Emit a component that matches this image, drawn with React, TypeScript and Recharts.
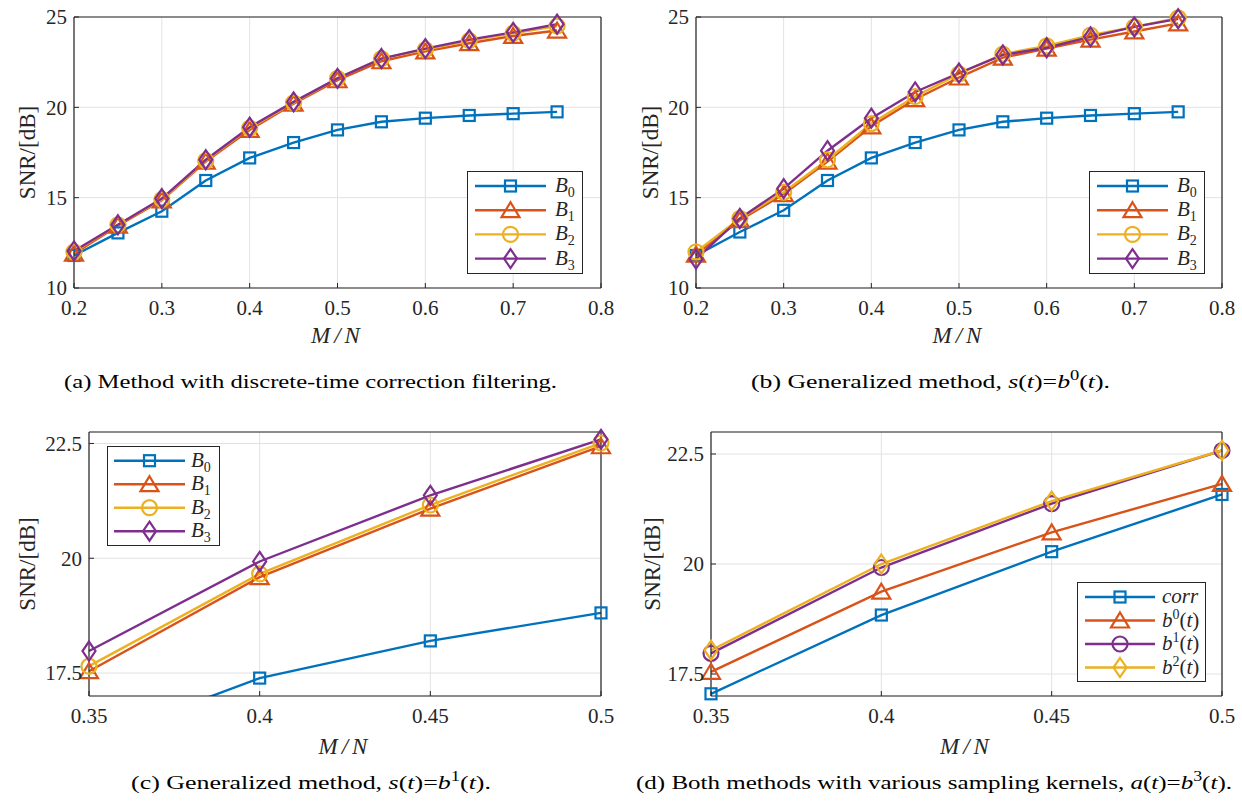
import React from "react";
import { LineChart, Line, XAxis, YAxis, CartesianGrid, Legend } from "recharts";

const BLUE = "#0072BD";
const ORANGE = "#D95319";
const YELLOW = "#EDB120";
const PURPLE = "#7E2F8E";
const INK = "#262626";
const GRID = "#e2e2e2";
const SERIF = "Liberation Serif";

// M/N values
const mnWide = [0.2, 0.25, 0.3, 0.35, 0.4, 0.45, 0.5, 0.55, 0.6, 0.65, 0.7, 0.75];
const mnZoom = [0.35, 0.4, 0.45, 0.5];

// ticks
const xTicksWide = [0.2, 0.3, 0.4, 0.5, 0.6, 0.7, 0.8];
const xTicksZoom = [0.35, 0.4, 0.45, 0.5];
const yTicksWide = [10, 15, 20, 25];
const yTicksZoom = [17.5, 20, 22.5];

// (a) discrete-time correction filtering
const snrA0 = [11.8, 13.05, 14.25, 15.95, 17.2, 18.05, 18.75, 19.2, 19.4, 19.55, 19.65, 19.75];
const snrA1 = [11.9, 13.45, 14.85, 17.0, 18.75, 20.2, 21.5, 22.55, 23.1, 23.55, 23.95, 24.25];
const snrA2 = [12.0, 13.5, 14.9, 17.05, 18.85, 20.25, 21.6, 22.7, 23.2, 23.7, 24.1, 24.5];
const snrA3 = [12.05, 13.5, 14.95, 17.1, 18.9, 20.3, 21.6, 22.7, 23.25, 23.75, 24.15, 24.6];

// (b) generalized, s(t)=b0(t)
const snrB0 = [11.8, 13.1, 14.3, 15.95, 17.2, 18.05, 18.75, 19.2, 19.4, 19.55, 19.65, 19.75];
const snrB1 = [11.85, 13.75, 15.2, 17.0, 18.95, 20.45, 21.65, 22.75, 23.25, 23.75, 24.2, 24.65];
const snrB2 = [12.0, 13.85, 15.3, 17.1, 19.1, 20.6, 21.85, 22.95, 23.4, 24.0, 24.45, 24.95];
const snrB3 = [11.6, 13.85, 15.5, 17.6, 19.4, 20.85, 21.9, 22.9, 23.3, 23.9, 24.45, 24.9];

// (c) generalized, s(t)=b1(t)
const snrC0 = [16.0, 17.39, 18.2, 18.81];
const snrC1 = [17.54, 19.59, 21.08, 22.44];
const snrC2 = [17.65, 19.66, 21.16, 22.51];
const snrC3 = [17.98, 19.93, 21.37, 22.59];

// (d) sampling kernels, a(t)=b3(t)
const snrDcorr = [17.05, 18.84, 20.28, 21.58];
const snrDb0 = [17.55, 19.37, 20.72, 21.82];
const snrDb1 = [17.97, 19.92, 21.37, 22.58];
const snrDb2 = [18.04, 20.0, 21.43, 22.58];

type Shape = "square" | "triangle" | "circle" | "diamond";

const Marker = ({ cx, cy, shape, color }: { cx?: number | null; cy?: number | null; shape: Shape; color: string }) => {
  if (cx == null || cy == null || Number.isNaN(cy)) return null;
  const common = { fill: "none", stroke: color, strokeWidth: 2.2 };
  if (shape === "square") return <rect x={cx - 5.5} y={cy - 5.5} width={11} height={11} {...common} />;
  if (shape === "triangle")
    return <polygon points={`${cx},${cy - 8} ${cx + 9},${cy + 7} ${cx - 9},${cy + 7}`} {...common} />;
  if (shape === "circle") return <circle cx={cx} cy={cy} r={7.5} {...common} />;
  return <polygon points={`${cx},${cy - 9.5} ${cx + 6.5},${cy} ${cx},${cy + 9.5} ${cx - 6.5},${cy}`} {...common} />;
};

const subLabel = (base: string, sub: string) => (
  <>
    <tspan fontStyle="italic">{base}</tspan>
    <tspan fontSize={14} dy={5}>{sub}</tspan>
  </>
);

const supLabel = (base: string, sup: string) => (
  <>
    <tspan fontStyle="italic">{base}</tspan>
    <tspan fontSize={14} dy={-8}>{sup}</tspan>
    <tspan dy={8}>(</tspan>
    <tspan fontStyle="italic">t</tspan>
    <tspan>)</tspan>
  </>
);

type Series = { key: string; values: number[]; color: string; shape: Shape; label: React.ReactNode };

type LegendCfg = {
  left: number;
  top: number;
  width: number;
  height: number;
  rowTop: number;
  rowGap: number;
  x1: number;
  x2: number;
  textX: number;
};

const LegendBox = ({ cfg, items }: { cfg: LegendCfg; items: Series[] }) => (
  <svg width={cfg.width} height={cfg.height} style={{ display: "block" }}>
    <rect x={0.5} y={0.5} width={cfg.width - 1} height={cfg.height - 1} fill="#fff" stroke={INK} strokeWidth={1} />
    {items.map((s, i) => {
      const y = cfg.rowTop + i * cfg.rowGap;
      return (
        <g key={s.key}>
          <line x1={cfg.x1} x2={cfg.x2} y1={y} y2={y} stroke={s.color} strokeWidth={2.4} />
          <Marker cx={(cfg.x1 + cfg.x2) / 2} cy={y} shape={s.shape} color={s.color} />
          <text x={cfg.textX} y={y + 6} fontFamily={SERIF} fontSize={21} fill={INK}>
            {s.label}
          </text>
        </g>
      );
    })}
  </svg>
);

type PanelProps = {
  left: number;
  top: number;
  width: number;
  height: number;
  margin: { top: number; right: number; bottom: number; left: number };
  yWidth: number;
  xHeight: number;
  mn: number[];
  xTicks: number[];
  yTicks: number[];
  yDomain: [number, number];
  series: Series[];
  clipKey?: string;
  legend: LegendCfg;
  yLabelX: number;
  xLabelOffset: number;
};

const tickStyle = { fill: INK, fontFamily: SERIF, fontSize: 21 };

function Panel(p: PanelProps) {
  const data = p.mn.map((m, i) => {
    const row: Record<string, number | null> = { mn: m };
    p.series.forEach((s) => {
      row[s.key] = s.values[i];
      // markers of a series that runs below the axis are drawn only where they are in range
      if (s.key === p.clipKey) row[s.key + "Marks"] = s.values[i] < p.yDomain[0] ? null : s.values[i];
    });
    return row;
  });
  const xDomain = [p.xTicks[0], p.xTicks[p.xTicks.length - 1]];

  const lines: React.ReactNode[] = [];
  p.series.forEach((s) => {
    const clipped = s.key === p.clipKey;
    lines.push(
      <Line
        key={s.key}
        dataKey={s.key}
        yAxisId={clipped ? "clip" : 0}
        stroke={s.color}
        strokeWidth={2.4}
        dot={
          clipped
            ? false
            : (d: any) => <Marker key={`${s.key}-${d.index}`} cx={d.cx} cy={d.cy} shape={s.shape} color={s.color} />
        }
        activeDot={false}
        isAnimationActive={false}
      />
    );
    if (clipped) {
      lines.push(
        <Line
          key={s.key + "Marks"}
          dataKey={s.key + "Marks"}
          stroke="none"
          dot={(d: any) => <Marker key={`${s.key}m-${d.index}`} cx={d.cx} cy={d.cy} shape={s.shape} color={s.color} />}
          activeDot={false}
          isAnimationActive={false}
        />
      );
    }
  });

  return (
    <div style={{ position: "absolute", left: p.left, top: p.top }}>
      <LineChart width={p.width} height={p.height} margin={p.margin} data={data}>
        <CartesianGrid stroke={GRID} strokeWidth={1} />
        <XAxis
          dataKey="mn"
          type="number"
          domain={xDomain}
          ticks={p.xTicks}
          interval={0}
          height={p.xHeight}
          tickSize={-5}
          tickMargin={17}
          tick={tickStyle}
          tickLine={{ stroke: INK }}
          axisLine={{ stroke: INK, strokeWidth: 1.2 }}
          tickFormatter={(v: number) => String(v)}
          label={{
            value: "M/N",
            position: "insideBottom",
            offset: p.xLabelOffset,
            style: { fontFamily: SERIF, fontSize: 23, fontStyle: "italic", letterSpacing: 4, fill: INK },
          }}
        />
        <XAxis
          xAxisId="top"
          orientation="top"
          mirror
          type="number"
          domain={xDomain}
          ticks={p.xTicks}
          interval={0}
          tick={false}
          tickSize={5}
          tickLine={{ stroke: INK }}
          axisLine={{ stroke: INK, strokeWidth: 1.2 }}
        />
        <YAxis
          type="number"
          domain={p.yDomain}
          ticks={p.yTicks}
          interval={0}
          width={p.yWidth}
          tickSize={-5}
          tickMargin={12}
          tick={tickStyle}
          tickLine={{ stroke: INK }}
          axisLine={{ stroke: INK, strokeWidth: 1.2 }}
          label={{
            value: "SNR/[dB]",
            angle: -90,
            position: "insideLeft",
            offset: p.yLabelX,
            style: { textAnchor: "middle", fontFamily: SERIF, fontSize: 23, fill: INK },
          }}
        />
        <YAxis
          yAxisId="right"
          orientation="right"
          mirror
          type="number"
          domain={p.yDomain}
          ticks={p.yTicks}
          interval={0}
          tick={false}
          tickSize={5}
          tickLine={{ stroke: INK }}
          axisLine={{ stroke: INK, strokeWidth: 1.2 }}
        />
        {p.clipKey && <YAxis yAxisId="clip" hide type="number" domain={p.yDomain} allowDataOverflow />}
        {lines}
        <Legend
          layout="vertical"
          align="center"
          verticalAlign="middle"
          content={() => <LegendBox cfg={p.legend} items={p.series} />}
          wrapperStyle={{ position: "absolute", left: p.legend.left, top: p.legend.top, width: p.legend.width, height: p.legend.height }}
        />
      </LineChart>
    </div>
  );
}

const bSeries = (v: number[][]): Series[] => [
  { key: "B0", values: v[0], color: BLUE, shape: "square", label: subLabel("B", "0") },
  { key: "B1", values: v[1], color: ORANGE, shape: "triangle", label: subLabel("B", "1") },
  { key: "B2", values: v[2], color: YELLOW, shape: "circle", label: subLabel("B", "2") },
  { key: "B3", values: v[3], color: PURPLE, shape: "diamond", label: subLabel("B", "3") },
];

const dSeries: Series[] = [
  { key: "corr", values: snrDcorr, color: BLUE, shape: "square", label: <tspan fontStyle="italic">corr</tspan> },
  { key: "b0", values: snrDb0, color: ORANGE, shape: "triangle", label: supLabel("b", "0") },
  { key: "b1", values: snrDb1, color: PURPLE, shape: "circle", label: supLabel("b", "1") },
  { key: "b2", values: snrDb2, color: YELLOW, shape: "diamond", label: supLabel("b", "2") },
];

const legendTop = { top: 171, width: 116, height: 103, rowTop: 15, rowGap: 24.2, x1: 8, x2: 79, textX: 88 };

const Caption = ({ x, y, len, children }: { x: number; y: number; len: number; children: React.ReactNode }) => (
  <text x={x} y={y} textLength={len} lengthAdjust="spacingAndGlyphs" fontFamily={SERIF} fontSize={19.5} fill="#000">
    {children}
  </text>
);

const mathCaption = (prefix: string, fn: string, sup: string) => (
  <>
    {prefix}
    <tspan fontStyle="italic">{fn}</tspan>(<tspan fontStyle="italic">t</tspan>)=<tspan fontStyle="italic">b</tspan>
    <tspan fontSize={14} dy={-8}>{sup}</tspan>
    <tspan dy={8}>(</tspan>
    <tspan fontStyle="italic">t</tspan>
    <tspan>).</tspan>
  </>
);

export default function App() {
  return (
    <div style={{ position: "absolute", left: 0, top: 0, width: 1242, height: 801, background: "#fff" }}>
      <Panel
        left={0}
        top={0}
        width={621}
        height={360}
        margin={{ top: 17, right: 20, bottom: 0, left: 0 }}
        yWidth={74}
        xHeight={72}
        mn={mnWide}
        xTicks={xTicksWide}
        yTicks={yTicksWide}
        yDomain={[10, 25]}
        series={bSeries([snrA0, snrA1, snrA2, snrA3])}
        legend={{ ...legendTop, left: 467 }}
        yLabelX={27}
        xLabelOffset={17}
      />
      <Panel
        left={621}
        top={0}
        width={621}
        height={360}
        margin={{ top: 17, right: 20, bottom: 0, left: 0 }}
        yWidth={75}
        xHeight={72}
        mn={mnWide}
        xTicks={xTicksWide}
        yTicks={yTicksWide}
        yDomain={[10, 25]}
        series={bSeries([snrB0, snrB1, snrB2, snrB3])}
        legend={{ ...legendTop, left: 468 }}
        yLabelX={29}
        xLabelOffset={17}
      />
      <Panel
        left={0}
        top={400}
        width={621}
        height={360}
        margin={{ top: 32, right: 20, bottom: 0, left: 0 }}
        yWidth={89}
        xHeight={64}
        mn={mnZoom}
        xTicks={xTicksZoom}
        yTicks={yTicksZoom}
        yDomain={[17, 22.75]}
        series={bSeries([snrC0, snrC1, snrC2, snrC3])}
        clipKey="B0"
        legend={{ left: 107, top: 46, width: 113, height: 100, rowTop: 14.7, rowGap: 23.5, x1: 7, x2: 78, textX: 84 }}
        yLabelX={27}
        xLabelOffset={6}
      />
      <Panel
        left={621}
        top={400}
        width={621}
        height={360}
        margin={{ top: 32, right: 20, bottom: 0, left: 0 }}
        yWidth={90}
        xHeight={64}
        mn={mnZoom}
        xTicks={xTicksZoom}
        yTicks={yTicksZoom}
        yDomain={[17, 23]}
        series={dSeries}
        legend={{ left: 456, top: 182, width: 129, height: 100, rowTop: 15, rowGap: 23.5, x1: 8, x2: 78, textX: 85 }}
        yLabelX={31}
        xLabelOffset={6}
      />
      <svg width={1242} height={801} style={{ position: "absolute", left: 0, top: 0, pointerEvents: "none" }}>
        <Caption x={64} y={388} len={493}>
          (a) Method with discrete-time correction filtering.
        </Caption>
        <Caption x={751} y={388} len={359}>
          {mathCaption("(b) Generalized method, ", "s", "0")}
        </Caption>
        <Caption x={131} y={789} len={360}>
          {mathCaption("(c) Generalized method, ", "s", "1")}
        </Caption>
        <Caption x={636} y={789} len={596}>
          {mathCaption("(d) Both methods with various sampling kernels, ", "a", "3")}
        </Caption>
      </svg>
    </div>
  );
}
